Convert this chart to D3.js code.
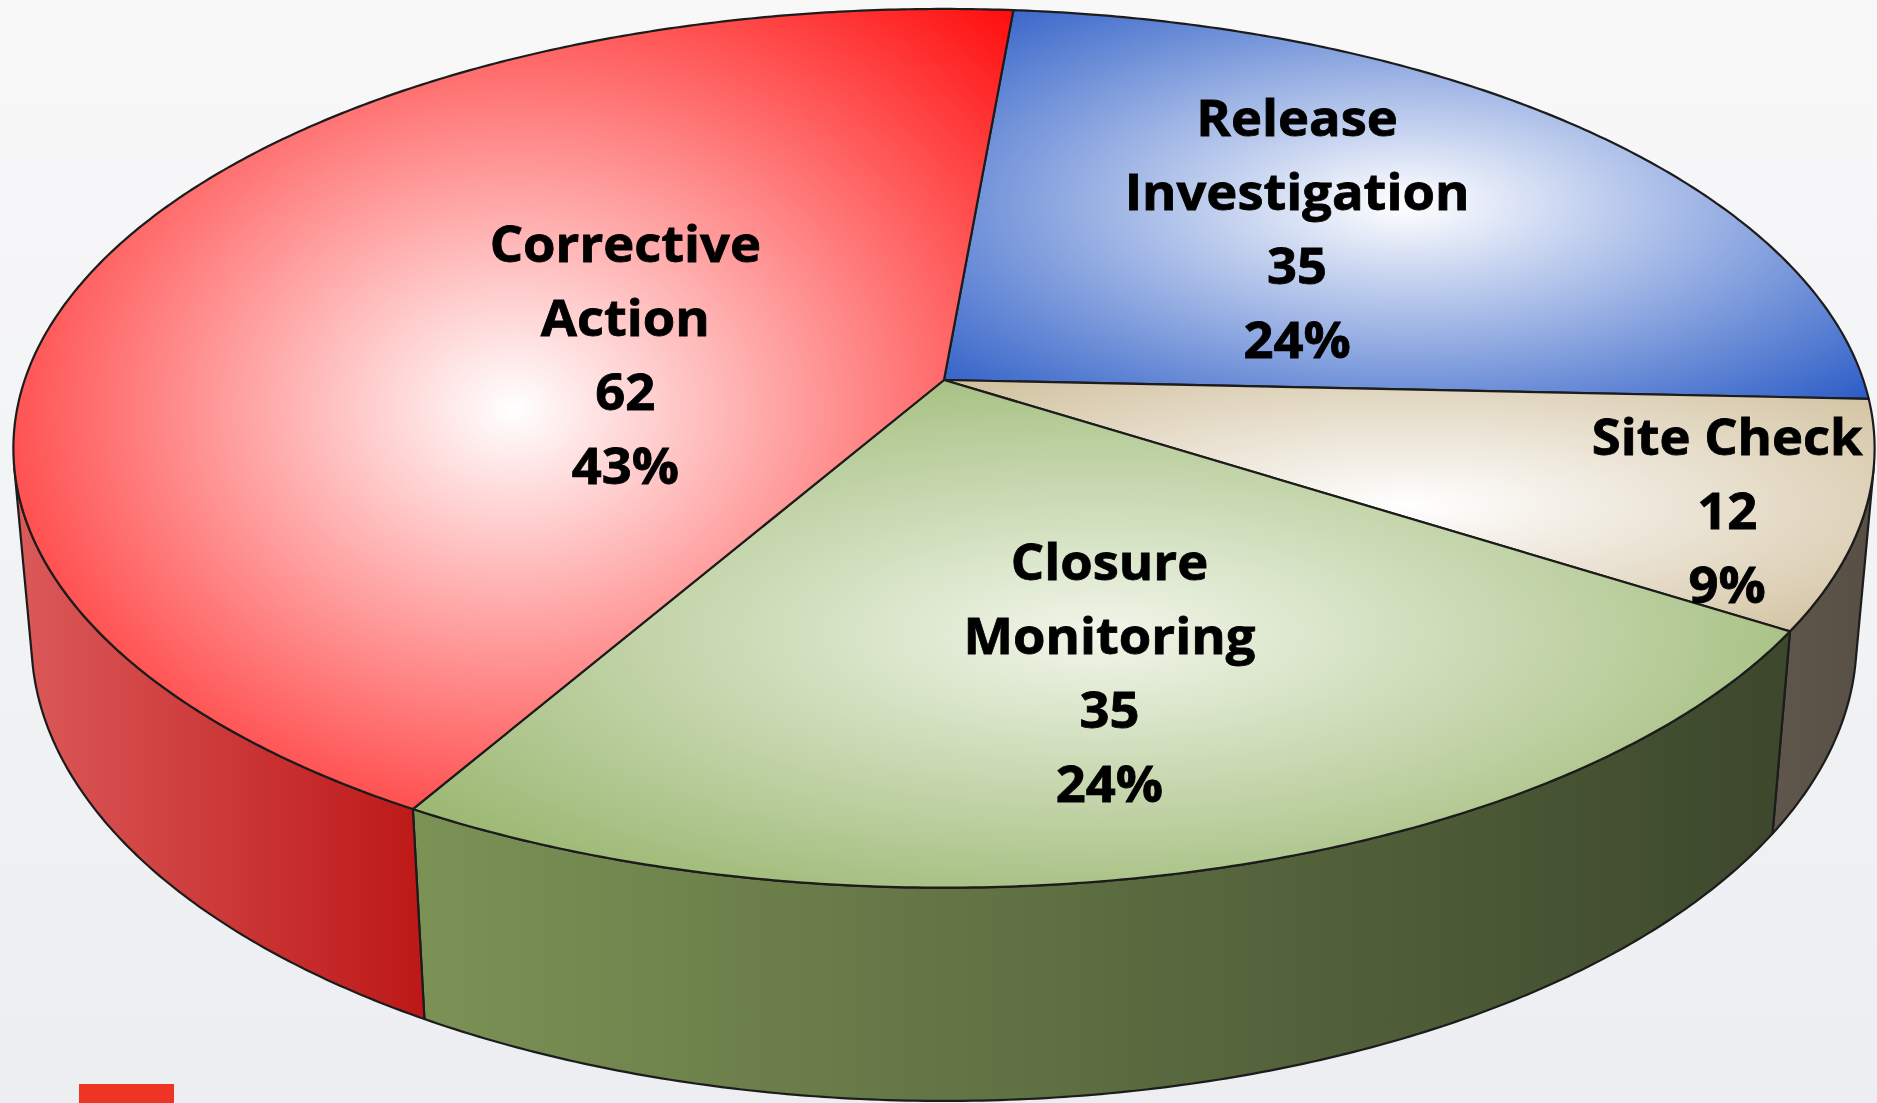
<!DOCTYPE html>
<html><head><meta charset="utf-8">
<script src="https://cdn.jsdelivr.net/npm/d3@7"></script>
<style>html,body{margin:0;padding:0;overflow:hidden;background:#eef0f3}</style>
</head><body>
<svg id="chart" width="1877" height="1103"></svg>
<script>
// ---- data ----
const categories = ["Release Investigation", "Site Check", "Closure Monitoring", "Corrective Action"];
const values = [35, 12, 35, 62];
const percentLabels = ["24%", "9%", "24%", "43%"];
const labelLines = [["Release", "Investigation"], ["Site Check"], ["Closure", "Monitoring"], ["Corrective", "Action"]];

// ---- styles / layout ----
const topEdge = ["#2b5cc6", "#d0bf9c", "#8dad5e", "#ff0c0c"];
const topCenter = ["#ffffff", "#ffffff", "#f1f6ea", "#ffffff"];
const wallLeft = ["#3a5aa8", "#5f574b", "#7c9255", "#dc5a5a"];
const wallRight = ["#2a4a98", "#574f43", "#3c472c", "#bd1818"];
const labelPlacement = [{r: 0.551, d: -1.25}, {r: 0.864, d: 2.2}, {r: 0.639, d: -1}, {r: 0.355, d: -7.8}];
const W = 1877, H = 1103;
const cam = {cx: 944, cy: 380, fx: 5240, fy: 5267, D: 5.70, sinP: 0.464, cosP: 0.886, depth: 0.237};
const startDeg = 5;
const lineH = 74, fontSize = 50, stretch = 1.05;

const svg = d3.select("#chart");
const defs = svg.append("defs");
const bg = defs.append("linearGradient").attr("id", "bg").attr("x1", 0).attr("y1", 0).attr("x2", 0).attr("y2", 1);
bg.append("stop").attr("offset", 0).attr("stop-color", "#f8f8f9");
bg.append("stop").attr("offset", 1).attr("stop-color", "#eceef1");
svg.append("rect").attr("width", W).attr("height", H).attr("fill", "url(#bg)");

function proj(theta, rho, down) {
  const X = rho * Math.sin(theta), Z = rho * Math.cos(theta), h = down ? cam.depth : 0;
  const dep = cam.D + Z * cam.cosP + h * cam.sinP;
  const yc = Z * cam.sinP - h * cam.cosP;
  return [cam.cx + cam.fx * X / dep, cam.cy - cam.fy * yc / dep];
}
function arcPts(a0, a1, down) {
  const n = Math.max(2, Math.ceil(Math.abs(a1 - a0) / (Math.PI / 360)));
  return d3.range(n + 1).map(i => proj(a0 + (a1 - a0) * i / n, 1, down));
}

const pie = d3.pie().sort(null).value(d => d)
  .startAngle(startDeg * Math.PI / 180).endAngle((startDeg + 360) * Math.PI / 180);
const arcs = pie(values);

arcs.forEach((a, i) => {
  const rg = defs.append("radialGradient").attr("id", "top" + i)
    .attr("cx", 0.5).attr("cy", 0.5).attr("r", 0.7071);
  rg.append("stop").attr("offset", 0).attr("stop-color", topCenter[i]);
  rg.append("stop").attr("offset", 1).attr("stop-color", topEdge[i]);
  const lg = defs.append("linearGradient").attr("id", "wall" + i).attr("x1", 0).attr("x2", 1).attr("y1", 0).attr("y2", 0);
  lg.append("stop").attr("offset", 0).attr("stop-color", wallLeft[i]);
  lg.append("stop").attr("offset", 1).attr("stop-color", wallRight[i]);
});

const line = d3.line();
const tMin = Math.acos(-1 / (cam.D * cam.cosP)), tMax = 2 * Math.PI - tMin;

// walls
const gW = svg.append("g");
arcs.forEach((a, i) => {
  const ranges = [];
  for (const off of [0, 2 * Math.PI]) {
    const w0 = Math.max(a.startAngle, tMin + off), w1 = Math.min(a.endAngle, tMax + off);
    if (w1 > w0) ranges.push([w0, w1]);
  }
  ranges.forEach(([w0, w1]) => {
    const pts = arcPts(w0, w1, false).concat(arcPts(w1, w0, true));
    gW.append("path").attr("d", line(pts) + "Z")
      .attr("fill", `url(#wall${i})`).attr("stroke", "#1c1c1c").attr("stroke-width", 2.2)
      .attr("stroke-linejoin", "round");
  });
});

// tops
const gT = svg.append("g");
arcs.forEach((a, i) => {
  const pts = [proj(0, 0, false)].concat(arcPts(a.startAngle, a.endAngle, false));
  gT.append("path").attr("d", line(pts) + "Z")
    .attr("fill", `url(#top${i})`).attr("stroke", "#1c1c1c").attr("stroke-width", 2.2)
    .attr("stroke-linejoin", "round");
});

// labels
const gL = svg.append("g").attr("font-family", "'Open Sans', sans-serif").attr("font-weight", 700)
  .attr("font-size", fontSize).attr("fill", "#000").attr("stroke", "#000").attr("stroke-width", 0.8)
  .attr("text-anchor", "middle");
arcs.forEach((a, i) => {
  const mid = (a.startAngle + a.endAngle) / 2 + labelPlacement[i].d * Math.PI / 180;
  const [x, y] = proj(mid, labelPlacement[i].r, false);
  const lines = labelLines[i].concat([String(values[i]), percentLabels[i]]);
  const y0 = y - (lines.length - 1) * lineH / 2 + 18;
  const t = gL.append("text").attr("transform", `translate(${x},${y0}) scale(${stretch},1)`);
  lines.forEach((s, k) => t.append("tspan").attr("x", 0).attr("y", k * lineH).text(s));
});

// legend marker (partially visible at bottom)
svg.append("rect").attr("x", 79).attr("y", 1084).attr("width", 95).attr("height", 30).attr("fill", "#ee3424");
</script>
</body></html>
